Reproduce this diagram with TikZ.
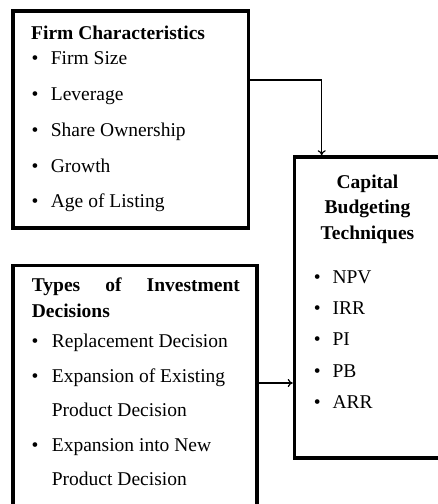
\documentclass[tikz,border=0pt]{standalone}
\usepackage{fontspec}
\setmainfont{Liberation Serif}
\usetikzlibrary{positioning,calc,arrows.meta}

\begin{document}
\begin{tikzpicture}[x=1bp,y=-1bp,
  every node/.style={inner sep=0pt,font=\fontsize{19.5bp}{25.5bp}\selectfont},
  box/.style={draw,rectangle,line width=3.5bp,anchor=north west},
  head/.style={font=\fontsize{19.5bp}{25.5bp}\selectfont\bfseries},
  item/.style={anchor=base west},
  dot/.style={anchor=base},
  link/.style={->,line width=1.2bp},
  >={To[length=5bp,width=8bp]}
]
\clip (0,0) rectangle (438,504);

% the boxes
\node[box,minimum width=235.5bp,minimum height=217bp] (fcbox) at (11.25,9.25) {};
\node[box,minimum width=244bp,minimum height=244.5bp] (tidbox) at (11.25,263.75) {};
\node[box,minimum width=146.5bp,minimum height=301bp] (cbtbox) at (292.75,155.25) {};

% firm characteristics
\node[head,item] (fchead) at (31,39.3) {Firm Characteristics};
\foreach \t [count=\i] in {Firm Size,Leverage,Share Ownership,Growth,Age of Listing} {
  \node[dot] (fcdot\i) at (35,{65+35.7*(\i-1)}) {\textbullet};
  \node[item] (fcitem\i) at (50.7,{65+35.7*(\i-1)}) {\t};
}

% types of investment decisions
\node[head,item,text width=208bp,align=justify,font=\fontsize{19.5bp}{26bp}\selectfont\bfseries]
  (tidhead) at (31.7,291.7) {Types of Investment \mbox{Decisions}};
\foreach \t/\b [count=\i] in {Replacement Decision/1,Expansion of Existing/1,Product Decision/0,Expansion into New/1,Product Decision/0} {
  \ifnum\b=1 \node[dot] (tiddot\i) at (35,{347.7+34.5*(\i-1)}) {\textbullet}; \fi
  \node[item] (tiditem\i) at (51.7,{347.7+34.5*(\i-1)}) {\t};
}

% capital budgeting techniques
\node[head,anchor=base,text width=140bp,align=center] (cbthead) at (367.5,188.3)
  {Capital\\Budgeting\\Techniques};
\foreach \t [count=\i] in {NPV,IRR,PI,PB,ARR} {
  \node[dot] (cbtdot\i) at (317.3,{283.3+31.25*(\i-1)}) {\textbullet};
  \node[item] (cbtitem\i) at (332.3,{283.3+31.25*(\i-1)}) {\t};
}

% the arrows
\draw[link] (fcbox.east |- 0,80) -| (cbtbox.north -| 321.7,0);
\draw[link] (tidbox.east |- 0,383) -- (cbtbox.west |- 0,383);
\end{tikzpicture}
\end{document}
